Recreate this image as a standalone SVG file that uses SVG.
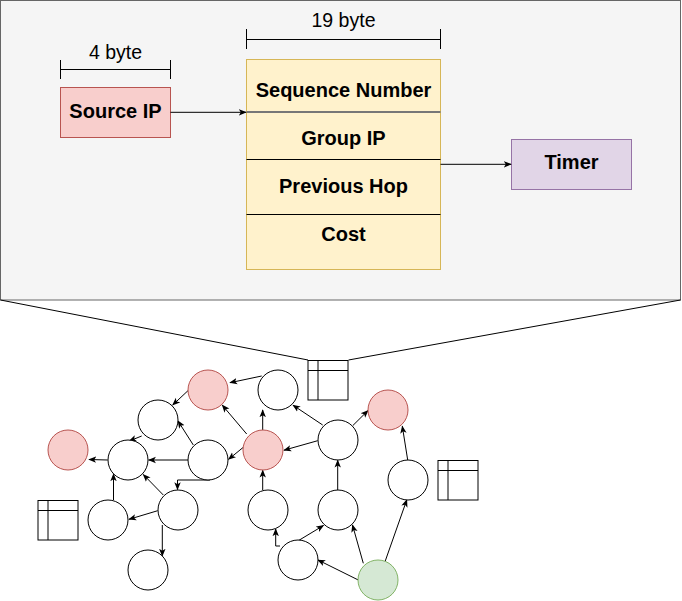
<svg xmlns="http://www.w3.org/2000/svg" width="682" height="601" viewBox="0 0 682 601">
<defs>
<marker id="arr" viewBox="0 0 10 10" refX="9" refY="5" markerWidth="8" markerHeight="8" markerUnits="userSpaceOnUse" orient="auto">
<path d="M0,1 L10,5 L0,9 L2.5,5 Z" fill="#000"/>
</marker>
</defs>
<style>
.lbl{font-family:"Liberation Sans",Arial,sans-serif;font-size:19.5px;fill:#000;text-anchor:middle}
.b{font-weight:bold;font-size:20px}
.ln{stroke:#000;stroke-width:1;fill:none}
.e{stroke:#000;stroke-width:1;fill:none;marker-end:url(#arr)}
.w{fill:#fff;stroke:#000;stroke-width:1}
.r{fill:#f8cecc;stroke:#b85450;stroke-width:1}
.g{fill:#d5e8d4;stroke:#82b366;stroke-width:1}
.t{fill:#fff;stroke:#000;stroke-width:1}
</style>
<rect width="682" height="601" fill="#fff"/>
<g id="panel">
<rect x="0.5" y="0.5" width="680" height="299.5" fill="#f5f5f5" stroke="#666"/>
</g>
<g id="zoom-lines">
<line class="ln" x1="0.5" y1="300" x2="308" y2="360" stroke="#333"/>
<line class="ln" x1="680.5" y1="300" x2="348.5" y2="360" stroke="#333"/>
</g>
<g id="dim4">
<path class="ln" d="M60.5,60 V79 M170.5,60 V79 M60.5,69.5 H170.5"/>
<text class="lbl" x="115.5" y="58.5">4 byte</text>
</g>
<g id="dim19">
<path class="ln" d="M246.5,29 V49 M440.5,29 V49 M246.5,39.5 H440.5"/>
<text class="lbl" x="343.5" y="27">19 byte</text>
</g>
<g id="source-ip">
<rect x="60.5" y="87.5" width="110" height="50" fill="#f8cecc" stroke="#b85450"/>
<text class="lbl b" x="115.5" y="118">Source IP</text>
</g>
<g id="entry">
<rect x="246.5" y="59.5" width="194" height="210" fill="#fff2cc" stroke="#d6b656"/>
<line x1="246.5" y1="112" x2="440.5" y2="112" stroke="#777" stroke-width="2"/>
<line class="ln" x1="246.5" y1="159.5" x2="440.5" y2="159.5"/>
<line class="ln" x1="246.5" y1="214.5" x2="440.5" y2="214.5"/>
<text class="lbl b" x="343.5" y="97">Sequence Number</text>
<text class="lbl b" x="343.5" y="145">Group IP</text>
<text class="lbl b" x="343.5" y="193">Previous Hop</text>
<text class="lbl b" x="343.5" y="241">Cost</text>
</g>
<g id="timer">
<rect x="511.5" y="139.5" width="120" height="50" fill="#e1d5e7" stroke="#9673a6"/>
<text class="lbl b" x="571.5" y="169">Timer</text>
</g>
<g id="table1">
<rect class="t" x="308" y="360.5" width="40" height="39.5"/>
<path class="ln" d="M308,370.5 H348 M318,360.5 V400"/>
</g>
<g id="table2">
<rect class="t" x="438" y="460.5" width="40" height="39.5"/>
<path class="ln" d="M438,470.5 H478 M448,460.5 V500"/>
</g>
<g id="table3">
<rect class="t" x="38" y="500.5" width="40" height="39.5"/>
<path class="ln" d="M38,510.5 H78 M48,500.5 V540"/>
</g>
<g id="connectors">
<line class="e" x1="170.5" y1="112.3" x2="246" y2="112.3"/>
<line class="e" x1="440.5" y1="164.3" x2="511" y2="164.3"/>
<line class="e" x1="261.7" y1="376" x2="230" y2="382.7"/>
<line class="e" x1="194" y1="385" x2="172.7" y2="405"/>
<line class="e" x1="141.7" y1="436" x2="129.3" y2="441"/>
<line class="e" x1="193.3" y1="445" x2="178" y2="421"/>
<line class="e" x1="107.7" y1="460" x2="89" y2="459.5"/>
<line class="e" x1="188" y1="460" x2="148.7" y2="460"/>
<path class="e" d="M210,480 H177.5 V489.5"/>
<line class="e" x1="243.3" y1="447.3" x2="228.6" y2="459.3"/>
<line class="e" x1="113.5" y1="500" x2="113.5" y2="474"/>
<line class="e" x1="163.3" y1="495" x2="143.3" y2="474.5"/>
<line class="e" x1="157.7" y1="510.7" x2="129" y2="519.3"/>
<line class="e" x1="162.3" y1="525" x2="162.3" y2="556"/>
<line class="e" x1="262.7" y1="430" x2="262.7" y2="410"/>
<line class="e" x1="246.7" y1="434" x2="222.3" y2="405.2"/>
<line class="e" x1="322.7" y1="425" x2="293" y2="405.2"/>
<line class="e" x1="317.7" y1="440.7" x2="284" y2="450.2"/>
<line class="e" x1="352.7" y1="425.7" x2="368" y2="410.5"/>
<line class="e" x1="407.7" y1="460" x2="402.3" y2="426.2"/>
<line class="e" x1="262.7" y1="490" x2="262.7" y2="470.3"/>
<line class="e" x1="337.7" y1="490" x2="337.7" y2="460.3"/>
<path class="e" d="M280,546 H275.7 V529"/>
<line class="e" x1="298.3" y1="540.7" x2="323.5" y2="525.5"/>
<line class="e" x1="358.3" y1="580" x2="318" y2="560"/>
<line class="e" x1="363.3" y1="563.3" x2="352.5" y2="525"/>
<line class="e" x1="385" y1="561.7" x2="406.8" y2="499.8"/>
</g>
<g id="n1"><circle class="r" cx="208" cy="390" r="20"/></g>
<g id="n2"><circle class="w" cx="278" cy="390" r="20"/></g>
<g id="n3"><circle class="w" cx="158" cy="420" r="20"/></g>
<g id="n4"><circle class="r" cx="68" cy="450" r="20"/></g>
<g id="n5"><circle class="w" cx="128" cy="460" r="20"/></g>
<g id="n6"><circle class="w" cx="208" cy="460" r="20"/></g>
<g id="n7"><circle class="r" cx="263" cy="450" r="20"/></g>
<g id="n8"><circle class="w" cx="338" cy="440" r="20"/></g>
<g id="n9"><circle class="r" cx="388" cy="410" r="20"/></g>
<g id="n10"><circle class="w" cx="408" cy="480" r="20"/></g>
<g id="n11"><circle class="w" cx="108" cy="520" r="20"/></g>
<g id="n12"><circle class="w" cx="178" cy="510" r="20"/></g>
<g id="n13"><circle class="w" cx="148" cy="570" r="20"/></g>
<g id="n14"><circle class="w" cx="268" cy="510" r="20"/></g>
<g id="n15"><circle class="w" cx="338" cy="510" r="20"/></g>
<g id="n16"><circle class="w" cx="298" cy="560" r="20"/></g>
<g id="n17"><circle class="g" cx="378" cy="580" r="20"/></g>
</svg>
